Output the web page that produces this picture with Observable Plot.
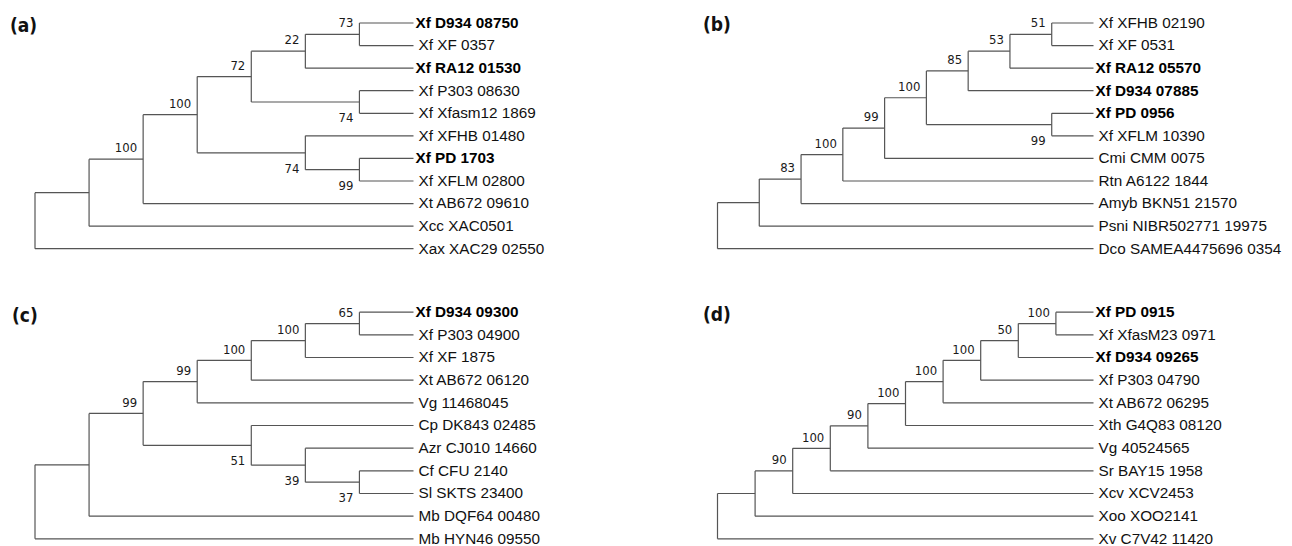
<!DOCTYPE html>
<html><head><meta charset="utf-8">
<script src="https://cdn.jsdelivr.net/npm/d3@7"></script>
<script src="https://cdn.jsdelivr.net/npm/@observablehq/plot@0.6"></script>
<style>
html,body{margin:0;padding:0;background:#fff;}
#wrap{position:relative;width:1292px;height:546px;display:grid;grid-template-columns:646px 646px;grid-template-rows:273px 273px;overflow:hidden;}
#wrap svg{display:block;}
.tag{position:absolute;font-family:"DejaVu Sans Condensed","DejaVu Sans",sans-serif;font-stretch:condensed;font-weight:bold;font-size:19px;line-height:19px;color:#111;}
</style></head><body><div id="wrap"></div>
<script>
// ---- data ----
const panelTags = ["(a)", "(b)", "(c)", "(d)"];

// Newick topologies with bootstrap support values after each clade
const treeA = "(((((((Xf D934 08750,Xf XF 0357)73,Xf RA12 01530)22,(Xf P303 08630,Xf Xfasm12 1869)74)72,(Xf XFHB 01480,(Xf PD 1703,Xf XFLM 02800)99)74)100,Xt AB672 09610)100,Xcc XAC0501),Xax XAC29 02550)";
const treeB = "(((((((((Xf XFHB 02190,Xf XF 0531)51,Xf RA12 05570)53,Xf D934 07885)85,(Xf PD 0956,Xf XFLM 10390)99)100,Cmi CMM 0075)99,Rtn A6122 1844)100,Amyb BKN51 21570)83,Psni NIBR502771 19975),Dco SAMEA4475696 0354)";
const treeC = "(((((((Xf D934 09300,Xf P303 04900)65,Xf XF 1875)100,Xt AB672 06120)100,Vg 11468045)99,(Cp DK843 02485,(Azr CJ010 14660,(Cf CFU 2140,Sl SKTS 23400)37)39)51)99,Mb DQF64 00480),Mb HYN46 09550)";
const treeD = "((((((((((Xf PD 0915,Xf XfasM23 0971)100,Xf D934 09265)50,Xf P303 04790)100,Xt AB672 06295)100,Xth G4Q83 08120)100,Vg 40524565)90,Sr BAY15 1958)100,Xcv XCV2453)90,Xoo XOO2141),Xv C7V42 11420)";

// leaves shown in bold
const boldA = ["Xf D934 08750", "Xf RA12 01530", "Xf PD 1703"];
const boldB = ["Xf RA12 05570", "Xf D934 07885", "Xf PD 0956"];
const boldC = ["Xf D934 09300"];
const boldD = ["Xf PD 0915", "Xf D934 09265"];

// ---- helpers ----
function parseNewick(s) {
  let i = 0;
  function node() {
    if (s[i] === "(") {
      i++;
      const children = [node()];
      while (s[i] === ",") { i++; children.push(node()); }
      i++;
      let lab = "";
      while (i < s.length && !",()".includes(s[i])) lab += s[i++];
      return {children, support: lab ? +lab : null};
    }
    let name = "";
    while (i < s.length && !",()".includes(s[i])) name += s[i++];
    return {name};
  }
  return node();
}

function layout(str, bold) {
  const root = d3.hierarchy(parseNewick(str));
  const H = root.height;
  let k = 0;
  root.eachAfter(n => {
    if (!n.children) n.yv = k++;
    else n.yv = (n.children[0].yv + n.children[n.children.length - 1].yv) / 2;
    n.xv = 1 - n.height / H;
  });
  const horiz = [], vert = [], leaves = [], supUp = [], supDown = [];
  root.each(n => {
    if (n.parent) horiz.push({x1: n.parent.xv, x2: n.xv, y1: n.yv, y2: n.yv});
    if (n.children) {
      vert.push({x1: n.xv, x2: n.xv, y1: n.children[0].yv, y2: n.children[n.children.length - 1].yv});
      if (n.data.support != null) {
        const rec = {x: n.xv, y: n.yv, t: String(n.data.support)};
        (n.parent.children[0] === n ? supUp : supDown).push(rec);
      }
    } else {
      leaves.push({x: n.xv, y: n.yv, name: n.data.name, bold: bold.includes(n.data.name)});
    }
  });
  return {horiz, vert, leaves, supUp, supDown, nLeaves: k};
}

const trees = [treeA, treeB, treeC, treeD];
const bolds = [boldA, boldB, boldC, boldD];
const frames = [
  {ml: 34.5, mr: 233, mt: 22.5, mb: 24.8, tagL: 10, tagT: 16},
  {ml: 71, mr: 199, mt: 22.5, mb: 24.8, tagL: 703, tagT: 15},
  {ml: 34.5, mr: 233, mt: 38.7, mb: 7.7, tagL: 12, tagT: 306},
  {ml: 71, mr: 199, mt: 38.7, mb: 7.7, tagL: 703, tagT: 305}
];

const leafFont = "'Liberation Sans', Arial, sans-serif";
const supFont = "'DejaVu Sans Condensed', 'DejaVu Sans', sans-serif";
const lineColor = "#555";
const wrap = document.getElementById("wrap");

trees.forEach((t, p) => {
  const L = layout(t, bolds[p]);
  const f = frames[p];
  const chart = Plot.plot({
    width: 646, height: 273,
    marginLeft: f.ml, marginRight: f.mr, marginTop: f.mt, marginBottom: f.mb,
    x: {domain: [0, 1], axis: null},
    y: {domain: [0, L.nLeaves - 1], reverse: true, axis: null},
    marks: [
      Plot.link(L.horiz, {x1: "x1", x2: "x2", y1: "y1", y2: "y2", stroke: lineColor, strokeWidth: 1.2}),
      Plot.link(L.vert, {x1: "x1", x2: "x2", y1: "y1", y2: "y2", stroke: lineColor, strokeWidth: 1.2}),
      Plot.text(L.leaves.filter(d => !d.bold), {x: "x", y: "y", text: "name", textAnchor: "start", dx: 5, fontSize: 15.3, fontFamily: leafFont, fill: "#111"}),
      Plot.text(L.leaves.filter(d => d.bold), {x: "x", y: "y", text: "name", textAnchor: "start", dx: 2, fontSize: 15.3, fontWeight: "bold", fontFamily: leafFont, fill: "#000"}),
      Plot.text(L.supUp, {x: "x", y: "y", text: "t", textAnchor: "end", dx: -6, dy: -11, fontSize: 13, fontFamily: supFont, fill: "#1a1a1a"}),
      Plot.text(L.supDown, {x: "x", y: "y", text: "t", textAnchor: "end", dx: -6, dy: 16, fontSize: 13, fontFamily: supFont, fill: "#1a1a1a"})
    ]
  });
  chart.style.fontStretch = "condensed";
  wrap.appendChild(chart);
  const tag = document.createElement("div");
  tag.className = "tag";
  tag.textContent = panelTags[p];
  tag.style.left = f.tagL + "px";
  tag.style.top = f.tagT + "px";
  wrap.appendChild(tag);
});
</script></body></html>
